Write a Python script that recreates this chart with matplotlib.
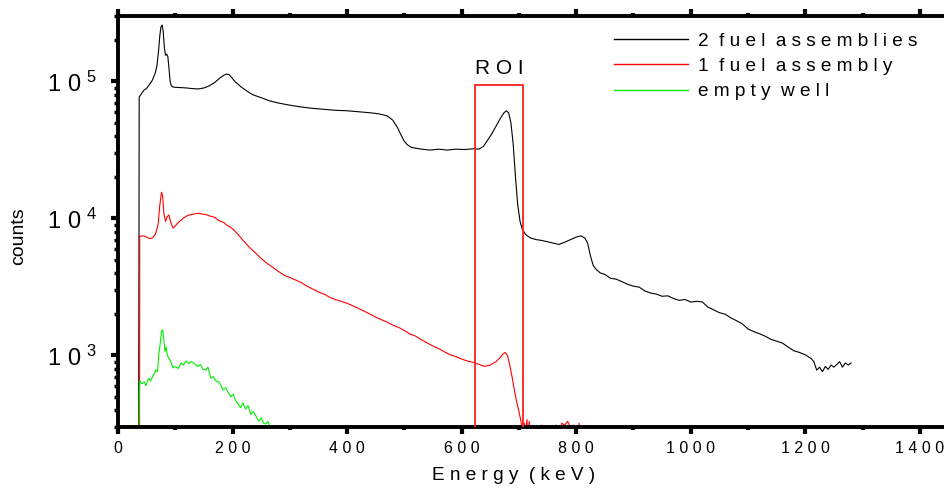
import matplotlib
matplotlib.use("Agg")
import matplotlib.pyplot as plt
from matplotlib.ticker import FixedLocator, NullFormatter, LogLocator
from matplotlib.patches import Rectangle

plt.rcParams['font.family'] = ['Liberation Sans', 'DejaVu Sans']
plt.rcParams['mathtext.fontset'] = 'custom'
plt.rcParams['mathtext.rm'] = 'Liberation Sans'

# ---------------- data ----------------
e_two = [36, 37, 40, 45, 50, 55, 60, 65, 68, 71, 73, 75, 77, 79, 81, 83, 85, 87, 89, 91, 93, 96,
         100, 110, 120, 130, 140, 150, 160, 170, 178, 185, 190, 194, 198, 205, 215, 225, 235, 250,
         265, 280, 300, 320, 340, 360, 380, 400, 420, 440, 455, 470, 480, 488, 495, 500, 505, 512,
         520, 530, 545, 560, 575, 590, 605, 620, 630, 638, 645, 652, 660, 668, 674, 678, 682, 686,
         690, 694, 698, 702, 706, 712, 720, 730, 740, 750, 760, 770, 780, 790, 800, 808, 815, 820,
         825, 830, 836, 842, 850, 860, 870, 880, 890, 900, 910, 920, 930, 940, 950, 960, 970, 980,
         990, 1000, 1010, 1020, 1030, 1040, 1050, 1060, 1070, 1080, 1090, 1100, 1110, 1120, 1130,
         1140, 1150, 1160, 1170, 1180, 1190, 1200, 1210, 1215, 1220, 1225, 1230, 1235, 1240, 1245,
         1250, 1255, 1260, 1265, 1270, 1275, 1280]
c_two = [100, 77000, 80000, 86000, 89000, 95000, 102000, 115000, 130000, 170000, 215000, 250000,
         258000, 230000, 175000, 155000, 158000, 152000, 125000, 100000, 93000, 91000,
         90500, 90000, 89500, 88500, 88000, 89500, 93000, 99000, 106000, 111000, 113000, 112000,
         107000, 99000, 91000, 85000, 80000, 76000, 72000, 69500, 67000, 65000, 63500, 62500,
         61500, 61000, 60000, 59000, 58000, 56000, 52000, 46000, 40000, 36500, 34500, 33000,
         32500, 32000, 31500, 32000, 31500, 32000, 31800, 32200, 32000, 33500, 37000, 41000,
         47000, 54000, 59000, 61000, 59000, 50000, 35000, 20000, 12500, 9500, 8300, 7600, 7200,
         7000, 6900, 6750, 6600, 6450, 6700, 7000, 7300, 7450, 7200, 6600, 5300, 4500, 4200, 4000,
         3900, 3650, 3600, 3450, 3300, 3200, 3150, 2950, 2850, 2800, 2700, 2720, 2600, 2520,
         2560, 2450, 2480, 2460, 2250, 2150, 2050, 2000, 1880, 1790, 1700, 1560, 1490, 1440, 1380,
         1310, 1270, 1230, 1150, 1080, 1050, 1010, 950, 900, 780, 820, 760, 830, 790, 850,
         820, 860, 900, 820, 880, 850, 880]

e_one = [37.5, 38, 45, 50, 55, 60, 65, 70, 73, 76, 78, 80, 83, 86, 89, 92, 96, 100, 105, 110, 115,
         120, 125, 130, 135, 140, 145, 150, 155, 160, 165, 170, 175, 180, 185, 190, 195, 200, 210,
         220, 230, 240, 250, 260, 270, 280, 290, 300, 310, 320, 330, 340, 350, 360, 370, 380, 390,
         400, 410, 420, 430, 440, 450, 460, 470, 480, 490, 500, 510, 520, 530, 540, 550, 560, 570,
         580, 590, 600, 610, 620, 630, 640, 650, 660, 667, 672, 676, 680, 684, 688, 692, 696, 700,
         703, 706, 708, 710, 712, 714, 716, 718, 720, 722, 725, 730, 740, 745, 750, 760, 765, 770,
         775, 780, 785, 790, 795, 800, 805, 810]
c_one = [100, 7400, 7450, 7300, 7100, 7200, 7600, 9000, 12500, 15500, 14500, 11000, 9500, 10300,
         10600, 9400, 8500, 8800, 9300, 9700, 10100, 10400, 10600, 10700, 10800, 10900, 10800,
         10700, 10600, 10400, 10300, 10100, 9700, 9500, 9300, 8900, 8700, 8400, 7600, 6800, 6100,
         5600, 5100, 4700, 4400, 4100, 3850, 3700, 3550, 3400, 3200, 3050, 2900, 2800, 2650, 2550,
         2480, 2400, 2300, 2200, 2100, 2000, 1900, 1820, 1750, 1660, 1600, 1520, 1430, 1380, 1300,
         1230, 1170, 1120, 1060, 1010, 980, 940, 910, 890, 860, 830, 850, 900, 960, 1020, 1050,
         1000, 850, 700, 560, 460, 390, 340, 290, 250, 320, 260, 340, 250, 330, 270, 300, 250,
         200, 310, 200, 200, 300, 310, 200, 320, 310, 330, 300, 310, 200, 320, 200]

e_empty = [36, 37, 38, 42, 46, 49, 52, 54, 57, 61, 64, 66, 69, 71, 74, 76, 78, 80, 82, 84, 86, 89,
           92, 96, 101, 105, 110, 114, 119, 124, 127, 132, 136, 139, 144, 148, 153, 157, 162, 166,
           171, 176, 180, 183, 188, 192, 197, 201, 205, 210, 214, 218, 223, 227, 232, 236, 241,
           246, 250, 254, 258, 262, 265, 268]
c_empty = [100, 470, 650, 620, 640, 600, 660, 680, 650, 710, 740, 780, 760, 1000, 1250, 1500, 1540,
           1300, 1070, 1150, 1000, 950, 900, 810, 830, 800, 880, 850, 910, 870, 900, 880, 850, 830,
           860, 790, 780, 820, 680, 700, 650, 640, 600, 560, 580, 540, 500, 520, 470, 440, 415,
           450, 405, 430, 370, 390, 360, 330, 350, 320, 315, 330, 300, 280]

roi_lo, roi_hi, roi_top = 624, 708, 93500

x_ticks = [0, 200, 400, 600, 800, 1000, 1200, 1400]
x_labels = ["0", "2 0 0", "4 0 0", "6 0 0", "8 0 0", "1 0 0 0", "1 2 0 0", "1 4 0 0"]
y_ticks = [1e3, 1e4, 1e5]
y_labels = [r"$\mathregular{1\ 0^{\ 3}}$", r"$\mathregular{1\ 0^{\ 4}}$", r"$\mathregular{1\ 0^{\ 5}}$"]
legend_labels = ["2  f u e l  a s s e m b l i e s", "1  f u e l  a s s e m b l y", "e m p t y  w e l l"]

# ---------------- figure ----------------
fig = plt.figure(figsize=(9.45, 4.88), dpi=100)
ax = fig.add_axes([118/945, 61/488, 827/945, 411/488])

ax.plot(e_two, c_two, color='black', lw=0.8, label=legend_labels[0])
ax.plot(e_one, c_one, color='#ff0000', lw=0.8, label=legend_labels[1])
ax.plot(e_empty, c_empty, color='#00ee00', lw=0.8, label=legend_labels[2])

ax.set_yscale('log')
ax.set_xlim(0, 1444)
ax.set_ylim(300, 3e5)

ax.add_patch(Rectangle((roi_lo, 1), roi_hi - roi_lo, roi_top - 1, fill=False,
                       edgecolor='#ff2020', lw=1.3, zorder=3))
ax.text((roi_lo + roi_hi) / 2, 1.14e5, "R O I", ha='center', va='baseline', fontsize=15)

ax.xaxis.set_major_locator(FixedLocator(x_ticks))
ax.set_xticklabels(x_labels, fontsize=11.5)
ax.xaxis.set_minor_locator(FixedLocator([100, 300, 500, 700, 900, 1100, 1300]))
ax.yaxis.set_major_locator(FixedLocator(y_ticks))
ax.set_yticklabels(y_labels, fontsize=17)
ax.yaxis.set_minor_locator(LogLocator(base=10, subs=range(2, 10)))
ax.yaxis.set_minor_formatter(NullFormatter())

ax.tick_params(axis='x', which='both', direction='out', top=True, bottom=True)
ax.tick_params(axis='x', which='major', length=5, width=3, pad=5)
ax.tick_params(axis='x', which='minor', length=2.5, width=3)
ax.tick_params(axis='y', which='both', direction='out', left=True, right=False)
ax.tick_params(axis='y', which='major', length=5, width=3, pad=10)
ax.tick_params(axis='y', which='minor', length=3, width=2.5)

for s in ['left', 'bottom', 'top']:
    ax.spines[s].set_linewidth(2.8)
ax.spines['right'].set_visible(False)

ax.set_xlabel("E n e r g y  ( k e V )", fontsize=13.7)
ax.xaxis.set_label_coords((514 - 118) / 827, (427 - 467) / 411)
ax.set_ylabel("counts", fontsize=14)
ax.yaxis.set_label_coords(-0.11, (427 - 236) / 411)

leg = ax.legend(loc='upper left', bbox_to_anchor=((614 - 118) / 827, (427 - 32.5) / 411),
                frameon=False, fontsize=13.7, handlelength=3.9, handletextpad=0.5,
                labelspacing=0.42, borderpad=0, borderaxespad=0)
for h in leg.get_lines():
    h.set_linewidth(1.0)

fig.savefig("out.png", dpi=100)
